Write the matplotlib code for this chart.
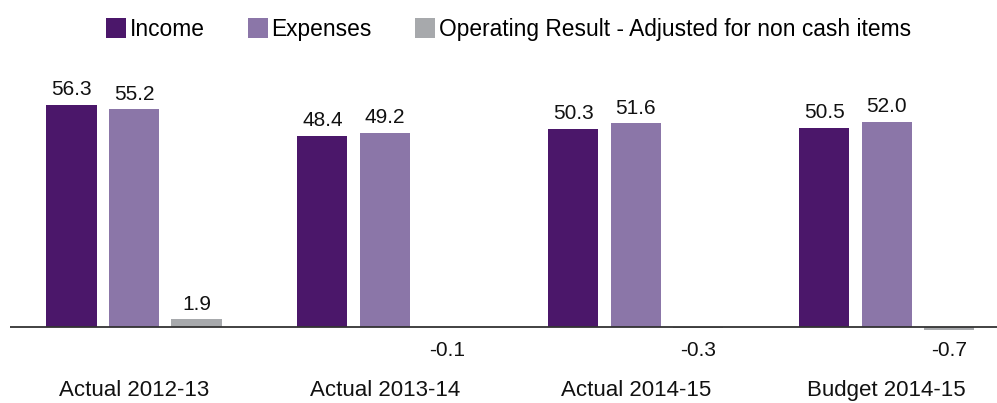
import matplotlib.pyplot as plt
import numpy as np
from matplotlib.patches import Patch

plt.rcParams["font.family"] = ["Liberation Sans", "DejaVu Sans"]

# Budget figures ($ million)
periods = ["Actual 2012-13", "Actual 2013-14", "Actual 2014-15", "Budget 2014-15"]
income = [56.3, 48.4, 50.3, 50.5]
expenses = [55.2, 49.2, 51.6, 52.0]
operating = [1.9, -0.1, -0.3, -0.7]

series_names = ["Income", "Expenses", "Operating Result - Adjusted for non cash items"]
series_colors = ["#4b176a", "#8b76a8", "#a7a9ac"]

fig = plt.figure(figsize=(9.97, 4.03), dpi=100)
ax = fig.add_axes([0, 0, 1, 1])

x = np.arange(len(periods))
step = 0.249
width = 0.2

for k, (vals, col) in enumerate(zip([income, expenses, operating], series_colors)):
    pos = x + (k - 1) * step
    ax.bar(pos, vals, width=width, color=col, zorder=2)
    for xp, v in zip(pos, vals):
        if v >= 0:
            ax.annotate(f"{v:.1f}", (xp, v), xytext=(0, 7), textcoords="offset points",
                        ha="center", va="baseline", fontsize=15, color="#111111")
        else:
            ax.annotate(f"{v:.1f}", (xp, 0), xytext=(0, -10), textcoords="offset points",
                        ha="center", va="top", fontsize=15, color="#111111")

# zero line
ax.hlines(0, -0.494, 3.45, color="#333333", linewidth=1.3, zorder=3)

for xp, name in zip(x, periods):
    ax.text(xp, 0.004, name, transform=ax.get_xaxis_transform(),
            ha="center", va="bottom", fontsize=16, color="#111111")

ax.set_xlim(-0.534, 3.44)
ax.set_ylim(-19.3, 82.9)
ax.axis("off")

handles = [Patch(facecolor=c, edgecolor="none") for c in series_colors]
fig.legend(handles, series_names, loc="center", bbox_to_anchor=(0.51, 0.928), ncol=3,
           frameon=False, fontsize=16.4, handlelength=0.88, handleheight=0.95,
           handletextpad=0.15, columnspacing=1.9)

fig.savefig("out.png", dpi=100)
